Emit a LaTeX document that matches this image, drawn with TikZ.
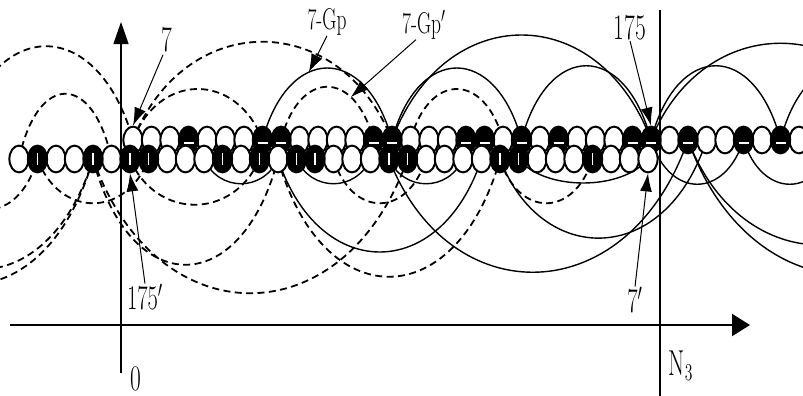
\documentclass[tikz,border=0pt]{standalone}
\usepackage{amsmath}
\usepackage{tikz}
\usetikzlibrary{shapes.geometric}
\usetikzlibrary{backgrounds}
\usetikzlibrary{arrows.meta}

\begin{document}
\begin{tikzpicture}[x=0.5pt,y=-0.5pt,
	bead/.style={ellipse,draw,line width=1pt,fill=white,inner sep=0pt,minimum width=9.6pt,minimum height=13.4pt},
	blackbead/.style={bead,fill=black},
	bar/.style={white,line width=0.8pt},
	wave/.style={line width=0.7pt},
	dwave/.style={line width=0.9pt,dash pattern=on 3.5pt off 2.2pt},
	pointer/.style={line width=0.5pt,-{Latex[length=9pt,width=6pt]}},
	lab/.style={font=\fontsize{18}{18}\selectfont,xscale=0.65,inner sep=0pt}]
\useasboundingbox (0,0) rectangle (803,396);

%rang du haut
\foreach \k in {0,1,2,4,5,6,9,10,11,12,15,16,17,20,22,24,25,26,29,31,32,34,36}
	\node[bead] (t\k) at ({133+18.5*\k},140) {};
\foreach \k in {3,7,8,13,14,18,19,21,23,27,28,30,33,35}
	{\node[blackbead] (t\k) at ({133+18.5*\k},140) {};
	\draw[bar] (t\k.center) ++(-5,3) -- ++(10,0);}
%rang du bas
\foreach \j in {0,2,3,5,8,9,10,12,14,17,18,19,22,23,24,25,28,29,30,32,33,34}
	\node[bead] (b\j) at ({19+18.5*\j},159) {};
\foreach \j in {1,4,6,7,11,13,15,16,20,21,26,27,31}
	{\node[blackbead] (b\j) at ({19+18.5*\j},159) {};
	\draw[bar] (b\j.center) ++(0,-6) -- ++(0,12);}

%points hors cadre
\coordinate (l1) at (-41,140);
\coordinate (l2) at (-60,159);
\coordinate (l3) at (-130,159);
\coordinate (l4) at (-150,159);
\coordinate (r1) at (910,140);
\coordinate (r3) at (836,140);
\coordinate (r4) at (952,140);
\coordinate (r5) at (1010,140);

\begin{scope}[on background layer]
	%arcs du haut
	\draw[dwave] (l1) .. controls +(35,-125) and +(-35,-125) .. (t0.center);
	\draw[dwave] (b0.center) .. controls +(18.5,-87) and +(-18.5,-87) .. (b5.center);
	\draw[dwave] (t0.center) .. controls +(52,-131) and +(-52,-131) .. (t14.center);
	\draw[dwave] (t0.center) .. controls +(26,-68) and +(-26,-68) .. (t7.center);
	\draw[dwave] (t8.center) .. controls +(18.5,-71) and +(-18.5,-71) .. (t13.center) coordinate[pos=0.72] (gpp);
	\draw[dwave] (t15.center) .. controls +(18.5,-68) and +(-18.5,-68) .. (t20.center);
	\draw[wave] (t7.center) .. controls +(26,-96) and +(-26,-96) .. (t14.center) coordinate[pos=0.38] (gp);
	\draw[wave] (t14.center) .. controls +(52,-140) and +(-52,-140) .. (t28.center);
	\draw[wave] (t14.center) .. controls +(26,-96) and +(-26,-96) .. (t21.center);
	\draw[wave] (t21.center) .. controls +(26,-99) and +(-26,-99) .. (t28.center);
	\draw[wave] (t28.center) .. controls +(52,-129) and +(-52,-129) .. (r1);
	\draw[wave] (t28.center) .. controls +(26,-99) and +(-26,-99) .. (t35.center);
	\draw[wave] (t35.center) .. controls +(26,-99) and +(-26,-99) .. (r1);
	%arcs du bas, tirets
	\draw[dwave] (l2) .. controls +(19.5,67) and +(-19.5,67) .. (b1.center);
	\draw[dwave] (l3) .. controls +(45,147) and +(-45,147) .. (b4.center);
	\draw[dwave] (l4) .. controls +(48,167) and +(-48,167) .. (b4.center);
	\draw[dwave] (b1.center) .. controls +(22,59) and +(-22,59) .. (b7.center);
	\draw[dwave] (b4.center) .. controls +(37,141) and +(-37,141) .. (b14.center);
	\draw[dwave] (b4.center) .. controls +(63,179) and +(-63,179) .. (b21.center);
	\draw[dwave] (b6.center) .. controls +(26,61) and +(-26,61) .. (b13.center);
	\draw[dwave] (b14.center) .. controls +(44,157) and +(-44,157) .. (b26.center);
	\draw[dwave] (b17.center) .. controls +(18.5,59) and +(-18.5,59) .. (b22.center);
	\draw[dwave] (b26.center) .. controls +(18.5,59) and +(-18.5,59) .. (b31.center);
	%arcs du bas, traits pleins
	\draw[wave] (b10.center) .. controls +(15,33) and +(-15,33) .. (b14.center);
	\draw[wave] (b15.center) .. controls +(15,33) and +(-15,33) .. (b19.center);
	\draw[wave] (b20.center) .. controls +(15,33) and +(-15,33) .. (b24.center);
	\draw[wave] (b27.center) .. controls +(26,32) and +(-26,32) .. (b34.center);
	\draw[wave] (b14.center) .. controls +(41,124) and +(-41,124) .. (b25.center);
	\draw[wave] (b20.center) .. controls +(60,155) and +(-60,172) .. (t30.center);
	\draw[wave] (b26.center) .. controls +(41,108) and +(-41,128) .. (t31.center);
	\draw[wave] (t28.center) .. controls +(18.5,59) and +(-18.5,59) .. (t33.center);
	\draw[wave] (t33.center) .. controls +(18.5,59) and +(-18.5,59) .. (r3);
	\draw[wave] (t30.center) .. controls +(53,140) and +(-53,140) .. (r4);
	\draw[wave] (t30.center) .. controls +(64,180) and +(-64,180) .. (r5);
\end{scope}

%axes
\coordinate (yb) at (121,373);
\coordinate (yt) at (121,22);
\coordinate (xl) at (10,325);
\coordinate (xr) at (750,325);
\coordinate (nt) at (660,10);
\coordinate (nb) at (660,396);
\draw[line width=0.6pt,-{Triangle[length=11pt,width=7.5pt]}] (yb) -- (yt);
\draw[line width=1pt,-{Triangle[length=9pt,width=11pt]}] (xl) -- (xr);
\draw[line width=0.6pt] (nt) -- (nb);

%etiquettes
\node[lab] (n7) at (167,40) {7};
\node[lab] (n175p) at (145,297) {$175'$};
\node[lab,font=\fontsize{15}{15}\selectfont] (ngp) at (327,22) {7-Gp};
\node[lab,font=\fontsize{15}{15}\selectfont] (ngpp) at (424,25) {7-Gp$'$};
\node[lab] (n175) at (630,28) {175};
\node[lab] (n7p) at (635,300) {$7'$};
\node[lab] (n0) at (136,379) {0};
\node[lab] (nN) at (681,366) {N$_3$};

\draw[pointer] (n7.south) ++(-4,2) -- (t0.north);
\draw[pointer] (n175p.north) -- (b6.south);
\draw[pointer] (ngp.south) -- (gp);
\draw[pointer] (ngpp.south) ++(-8,0) -- (gpp);
\draw[pointer] (n175.south) -- (t28.north);
\draw[pointer] (n7p.north) -- (b34.south);
\end{tikzpicture}
\end{document}
